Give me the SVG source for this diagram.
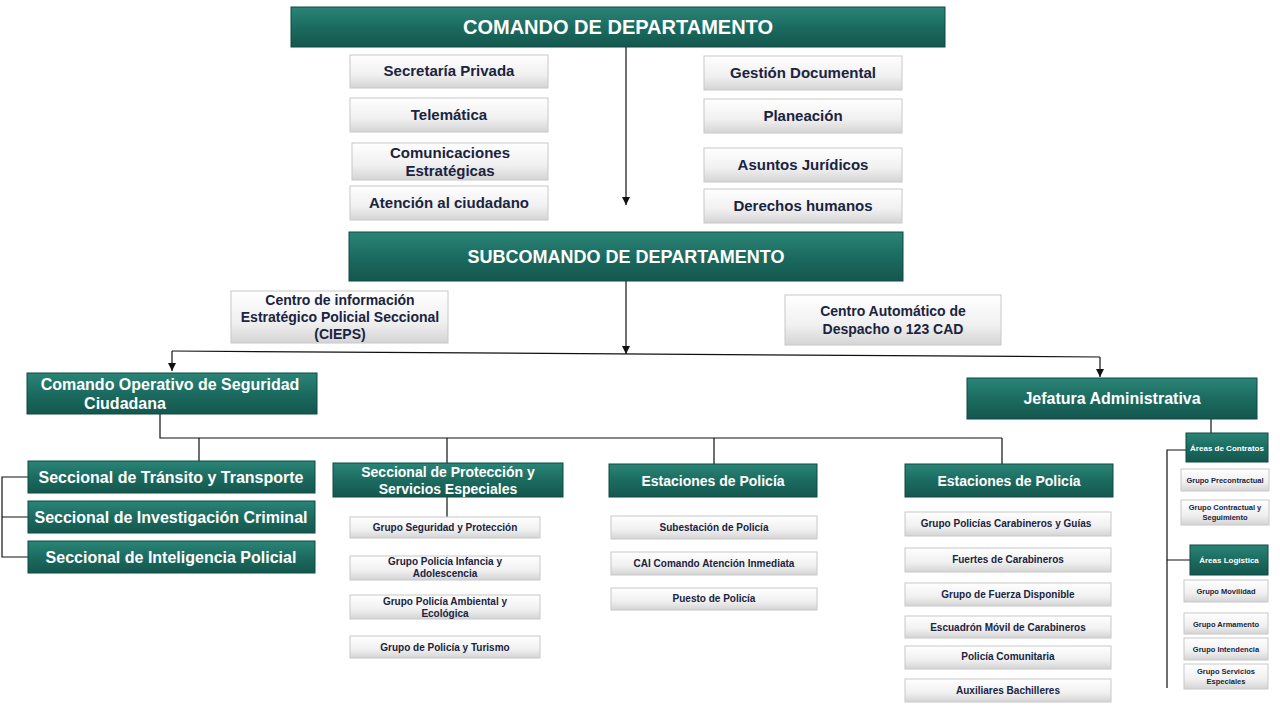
<svg xmlns="http://www.w3.org/2000/svg" width="1280" height="720" viewBox="0 0 1280 720">
<style>
.t{fill:url(#tg);stroke:#0d4a42;stroke-width:1}
.g{fill:url(#gg);stroke:#c8c8c8;stroke-width:1}
.tt{font-family:"Liberation Sans",Arial,sans-serif;font-weight:bold;fill:#fff;text-anchor:middle}
.gt{font-family:"Liberation Sans",Arial,sans-serif;font-weight:bold;fill:#1a2340;text-anchor:middle}
.c{stroke:#111;stroke-width:1.2;fill:none}
</style>
<defs>
<linearGradient id="tg" x1="0" y1="0" x2="0" y2="1"><stop offset="0" stop-color="#2a8577"/><stop offset="0.5" stop-color="#1c6b60"/><stop offset="1" stop-color="#14574e"/></linearGradient>
<linearGradient id="gg" x1="0" y1="0" x2="0" y2="1"><stop offset="0" stop-color="#ffffff"/><stop offset="0.6" stop-color="#f0f0f0"/><stop offset="1" stop-color="#d4d4d4"/></linearGradient>
<marker id="a" markerWidth="8" markerHeight="8" refX="4" refY="7" orient="auto" markerUnits="userSpaceOnUse"><path d="M0,0 L8,0 L4,8 z" fill="#111" transform="rotate(-90 4 4) translate(0,0)"/></marker>
<marker id="d" markerWidth="8" markerHeight="8" refX="4" refY="8" markerUnits="userSpaceOnUse"><path d="M0,0 L8,0 L4,8 z" fill="#111"/></marker>
</defs>
<rect width="1280" height="720" fill="#fff"/>
<g id="connectors">
<path class="c" d="M626,47 V205" marker-end="url(#d)"/>
<path class="c" d="M626,281 V354" marker-end="url(#d)"/>
<path class="c" d="M172,351 L1100,357"/>
<path class="c" d="M172,351 V371" marker-end="url(#d)"/>
<path class="c" d="M1100,357 V377" marker-end="url(#d)"/>
<path class="c" d="M160,414 V438 H1002 M199,438 V462 M447,438 V463 M714,438 V464 M1002,438 V464"/>
<path class="c" d="M28,477 H2 V557 H28 M2,517 H28"/>
<path class="c" d="M447,497 V517"/>
<path class="c" d="M1211,419 V436"/>
<path class="c" d="M1186,450 H1167 V688 M1167,560 H1190"/>
</g>
<g id="comando"><rect class="t" x="291" y="7" width="654" height="40"/><text class="tt" x="618" y="34" font-size="20">COMANDO DE DEPARTAMENTO</text></g>
<g id="secretaria"><rect class="g" x="350" y="55" width="198" height="33"/><text class="gt" x="449" y="76" font-size="15">Secretaría Privada</text></g>
<g id="telematica"><rect class="g" x="350" y="98" width="198" height="34"/><text class="gt" x="449" y="120" font-size="15">Telemática</text></g>
<g id="comunicaciones"><rect class="g" x="352" y="143" width="196" height="37"/><text class="gt" x="450" y="158" font-size="15">Comunicaciones</text><text class="gt" x="450" y="176" font-size="15">Estratégicas</text></g>
<g id="atencion"><rect class="g" x="350" y="186" width="198" height="34"/><text class="gt" x="449" y="208" font-size="15">Atención al ciudadano</text></g>
<g id="gestion"><rect class="g" x="704" y="56" width="198" height="34"/><text class="gt" x="803" y="78" font-size="15">Gestión Documental</text></g>
<g id="planeacion"><rect class="g" x="704" y="99" width="198" height="34"/><text class="gt" x="803" y="121" font-size="15">Planeación</text></g>
<g id="juridicos"><rect class="g" x="704" y="148" width="198" height="34"/><text class="gt" x="803" y="170" font-size="15">Asuntos Jurídicos</text></g>
<g id="derechos"><rect class="g" x="704" y="189" width="198" height="34"/><text class="gt" x="803" y="211" font-size="15">Derechos humanos</text></g>
<g id="subcomando"><rect class="t" x="349" y="232" width="554" height="49"/><text class="tt" x="626" y="263" font-size="18">SUBCOMANDO DE DEPARTAMENTO</text></g>
<g id="cieps"><rect class="g" x="231" y="291" width="217" height="52"/><text class="gt" x="340" y="305" font-size="14">Centro de información</text><text class="gt" x="340" y="322" font-size="14">Estratégico Policial Seccional</text><text class="gt" x="340" y="339" font-size="14">(CIEPS)</text></g>
<g id="cad"><rect class="g" x="785" y="295" width="216" height="50"/><text class="gt" x="893" y="316" font-size="14">Centro Automático de</text><text class="gt" x="893" y="334" font-size="14">Despacho o 123 CAD</text></g>
<g id="cosc"><rect class="t" x="27" y="373" width="290" height="41"/><text class="tt" x="170" y="390" font-size="16">Comando Operativo de Seguridad</text><text class="tt" x="125" y="409" font-size="16">Ciudadana</text></g>
<g id="jefatura"><rect class="t" x="967" y="378" width="290" height="41"/><text class="tt" x="1112" y="404" font-size="16">Jefatura Administrativa</text></g>
<g id="transito"><rect class="t" x="28" y="461" width="287" height="32"/><text class="tt" x="171" y="483" font-size="16">Seccional de Tránsito y Transporte</text></g>
<g id="investigacion"><rect class="t" x="28" y="501" width="287" height="32"/><text class="tt" x="171" y="523" font-size="16">Seccional de Investigación Criminal</text></g>
<g id="inteligencia"><rect class="t" x="28" y="541" width="287" height="32"/><text class="tt" x="171" y="563" font-size="16">Seccional de Inteligencia Policial</text></g>
<g id="proteccion"><rect class="t" x="333" y="463" width="230" height="34"/><text class="tt" x="448" y="477" font-size="14">Seccional de Protección y</text><text class="tt" x="448" y="494" font-size="14">Servicios Especiales</text></g>
<g id="gsp"><rect class="g" x="350" y="517" width="190" height="21"/><text class="gt" x="445" y="531" font-size="10">Grupo Seguridad y Protección</text></g>
<g id="gpia"><rect class="g" x="350" y="556" width="190" height="24"/><text class="gt" x="445" y="565" font-size="10">Grupo Policía Infancia y</text><text class="gt" x="445" y="577" font-size="10">Adolescencia</text></g>
<g id="gpae"><rect class="g" x="350" y="595" width="190" height="24"/><text class="gt" x="445" y="605" font-size="10">Grupo Policía Ambiental y</text><text class="gt" x="445" y="617" font-size="10">Ecológica</text></g>
<g id="gpt"><rect class="g" x="350" y="636" width="190" height="22"/><text class="gt" x="445" y="651" font-size="10">Grupo de Policía y Turismo</text></g>
<g id="estaciones1"><rect class="t" x="609" y="464" width="208" height="33"/><text class="tt" x="713" y="486" font-size="14">Estaciones de Policía</text></g>
<g id="subestacion"><rect class="g" x="611" y="516" width="206" height="23"/><text class="gt" x="714" y="531" font-size="10">Subestación de Policía</text></g>
<g id="cai"><rect class="g" x="611" y="552" width="206" height="23"/><text class="gt" x="714" y="567" font-size="10">CAI Comando Atención Inmediata</text></g>
<g id="puesto"><rect class="g" x="611" y="588" width="206" height="22"/><text class="gt" x="714" y="602" font-size="10">Puesto de Policía</text></g>
<g id="estaciones2"><rect class="t" x="905" y="464" width="208" height="33"/><text class="tt" x="1009" y="486" font-size="14">Estaciones de Policía</text></g>
<g id="gpcg"><rect class="g" x="905" y="512" width="206" height="24"/><text class="gt" x="1006" y="527" font-size="10">Grupo Policías Carabineros y Guías</text></g>
<g id="fuertes"><rect class="g" x="905" y="548" width="206" height="24"/><text class="gt" x="1008" y="563" font-size="10">Fuertes de Carabineros</text></g>
<g id="gfd"><rect class="g" x="905" y="583" width="206" height="23"/><text class="gt" x="1008" y="598" font-size="10">Grupo de Fuerza Disponible</text></g>
<g id="emc"><rect class="g" x="905" y="616" width="206" height="22"/><text class="gt" x="1008" y="631" font-size="10">Escuadrón Móvil de Carabineros</text></g>
<g id="comunitaria"><rect class="g" x="905" y="646" width="206" height="23"/><text class="gt" x="1008" y="660" font-size="10">Policía Comunitaria</text></g>
<g id="auxiliares"><rect class="g" x="905" y="679" width="206" height="23"/><text class="gt" x="1008" y="694" font-size="10">Auxiliares Bachilleres</text></g>
<g id="contratos"><rect class="t" x="1186" y="433" width="82" height="29"/><text class="tt" x="1227" y="451" font-size="8">Áreas de Contratos</text></g>
<g id="precontractual"><rect class="g" x="1181" y="469" width="88" height="22"/><text class="gt" x="1225" y="483" font-size="7.5">Grupo Precontractual</text></g>
<g id="contractual"><rect class="g" x="1181" y="500" width="88" height="25"/><text class="gt" x="1225" y="510" font-size="7.5">Grupo Contractual y</text><text class="gt" x="1225" y="520" font-size="7.5">Seguimiento</text></g>
<g id="logistica"><rect class="t" x="1190" y="545" width="78" height="30"/><text class="tt" x="1229" y="563" font-size="8">Áreas Logística</text></g>
<g id="movilidad"><rect class="g" x="1184" y="580" width="84" height="22"/><text class="gt" x="1226" y="594" font-size="7.5">Grupo Movilidad</text></g>
<g id="armamento"><rect class="g" x="1184" y="613" width="84" height="21"/><text class="gt" x="1226" y="627" font-size="7.5">Grupo Armamento</text></g>
<g id="intendencia"><rect class="g" x="1184" y="638" width="84" height="22"/><text class="gt" x="1226" y="652" font-size="7.5">Grupo Intendencia</text></g>
<g id="servicios"><rect class="g" x="1184" y="664" width="84" height="25"/><text class="gt" x="1226" y="674" font-size="7.5">Grupo Servicios</text><text class="gt" x="1226" y="684" font-size="7.5">Especiales</text></g>
</svg>
